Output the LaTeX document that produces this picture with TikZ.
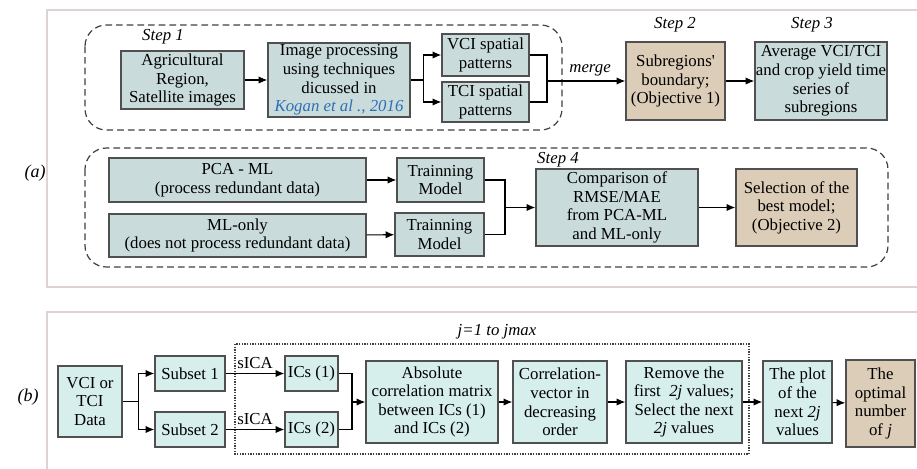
\documentclass[tikz,border=0pt]{standalone}
\usepackage{fontspec}
\setmainfont{Liberation Serif}
\newfontfamily\timesfont{Liberation Serif}
\usetikzlibrary{arrows.meta, calc}

\definecolor{tealA}{HTML}{C9DCDB}
\definecolor{tealB}{HTML}{D6EEEC}
\definecolor{beige}{HTML}{DCCDB8}
\definecolor{boxline}{HTML}{505050}
\definecolor{frameline}{HTML}{DDD3D0}
\definecolor{linkblue}{HTML}{2F6FB5}

\newcommand{\basefont}{\timesfont\fontsize{12.6}{13.9}\selectfont}

\tikzset{
  boxsize/.style 2 args = {minimum width=#1*0.75pt, minimum height=#2*0.75pt},
  box/.style = {draw=boxline, line width=1.1pt, fill=tealA, align=center, inner sep=0.5pt},
  boxb/.style = {box, fill=tealB},
  goal/.style = {box, fill=beige},
  line/.style = {draw, line width=0.8pt, -{Latex[length=6.5pt,width=5.5pt]}},
  wire/.style = {draw, line width=0.8pt},
  group/.style = {draw=black!75, line width=0.9pt, dash pattern=on 5pt off 3pt, rounded corners=16pt},
  loop/.style = {draw=black!75, line width=0.9pt, dash pattern=on 1pt off 1pt},
  steplabel/.style = {font=\basefont\itshape}
}

\begin{document}
\begin{tikzpicture}[x=0.75pt, y=-0.75pt, font=\basefont]
	\useasboundingbox (0,0) rectangle (917,468);
	
	% panel frames
	\draw [frameline, line width=1.1pt] (930,10) -- (47,10) -- (47,287) -- (930,287);
	\draw [frameline, line width=1.1pt] (930,312) -- (47,312) -- (47,480);
	\node [font=\timesfont\fontsize{13.5}{15}\selectfont\itshape] (lbla) at (35,173) {(a)};
	\node [font=\timesfont\fontsize{13.5}{15}\selectfont\itshape] (lblb) at (28,397) {(b)};
	
	% (a) groups
	\draw [group] (85,25) rectangle (562,130);
	\draw [group] (85,148) rectangle (888,267);
	
	% (a) step 1 - 3
	\node [box, boxsize={123}{58}] (agr) at (182.5,80) {Agricultural\\Region,\\Satellite images};
	\node [box, boxsize={142}{74}] (img) at (339,80) {Image processing\\using techniques\\dicussed in\\\textcolor{linkblue}{\itshape Kogan et al .,\ 2016}};
	\node [box, boxsize={87}{42}] (vci) at (485.5,55) {VCI spatial\\patterns};
	\node [box, boxsize={87}{40}] (tci) at (485.5,102) {TCI spatial\\patterns};
	\node [goal, boxsize={99}{78}] (sub) at (675.5,81) {Subregions'\\boundary;\\(Objective 1)};
	\node [box, boxsize={132}{78}] (avg) at (821,81) {Average VCI/TCI\\and crop yield time\\series of\\subregions};
	
	\node [steplabel] (step1) at (163,37) {Step 1};
	\node [steplabel] (step2) at (675,25) {Step 2};
	\node [steplabel] (step3) at (812,25) {Step 3};
	
	\coordinate (forkA) at ($(img.east)+(13,0)$);
	\coordinate (mergeA) at (547,81);
	\path [line] (agr) -> (img);
	\path [wire] (img.east) -- (forkA);
	\path [line] (forkA) |- (vci.west);
	\path [line] (forkA) |- (tci.west);
	\path [wire] (vci.east) -| (mergeA);
	\path [wire] (tci.east) -| (mergeA);
	\path [line] (mergeA) -- (sub.west) node [above, pos=0.55, font=\basefont\itshape] {merge};
	\path [line] (sub) -> (avg);
	
	% (a) step 4
	\node [box, boxsize={257}{44}] (pca) at (237.5,180) {PCA - ML\\(process redundant data)};
	\node [box, boxsize={257}{43}] (mlo) at (237.5,235.5) {ML-only\\(does not process redundant data)};
	\node [box, boxsize={87}{44}] (tm1) at (440.5,180) {Trainning\\Model};
	\node [box, boxsize={89}{43}] (tm2) at (439.5,234.5) {Trainning\\Model};
	\node [box, boxsize={162}{77}] (cmp) at (617,207.5) {Comparison of\\RMSE/MAE\\from PCA-ML\\and ML-only};
	\node [goal, boxsize={121}{77}] (sel) at (796.5,207.5) {Selection of the\\best model;\\(Objective 2)};
	\node [steplabel] (step4) at (558,160) {Step 4};
	
	\coordinate (mergeB) at (505,207.5);
	\path [line] (pca) -> (tm1);
	\path [line] (mlo) -> (tm2);
	\path [wire] (tm1.east) -| (mergeB);
	\path [wire] (tm2.east) -| (mergeB);
	\path [line] (mergeB) -- (cmp.west);
	\path [line] (cmp) -> (sel);
	
	% (b)
	\draw [loop] (235,344) rectangle (749,454);
	\node [steplabel] (jloop) at (497,332) {j=1 to jmax};
	
	\node [boxb, boxsize={64}{71}] (dat) at (90,401.5) {VCI or\\TCI\\Data};
	\node [boxb, boxsize={70}{35}] (s1) at (190,373.5) {Subset 1};
	\node [boxb, boxsize={70}{35}] (s2) at (190,429.5) {Subset 2};
	\node [boxb, boxsize={53}{35}] (ic1) at (311.5,373.5) {ICs (1)};
	\node [boxb, boxsize={53}{35}] (ic2) at (311.5,429.5) {ICs (2)};
	\node [boxb, boxsize={132}{82}] (abs) at (432,402) {Absolute\\correlation matrix\\between ICs (1)\\and ICs (2)};
	\node [boxb, boxsize={94}{82}] (cor) at (560,402) {Correlation-\\vector in\\decreasing\\order};
	\node [boxb, boxsize={116}{82}] (rem) at (684,402) {Remove the\\first~~\textit{2j} values;\\Select the next\\\textit{2j} values};
	\node [boxb, boxsize={69}{82}] (plt) at (797.5,402) {The plot\\of the\\next \textit{2j}\\values};
	\node [goal, boxsize={69}{87}] (opt) at (880.5,403.5) {The\\optimal\\number\\of \textit{j}};
	
	\coordinate (forkB) at ($(dat.east)+(16,0)$);
	\coordinate (mergeC) at (352,402);
	\path [wire] (dat.east) -- (forkB);
	\path [line] (forkB) |- (s1.west);
	\path [line] (forkB) |- (s2.west);
	\path [line] (s1) -> (ic1) node [above, midway] {sICA};
	\path [line] (s2) -> (ic2) node [above, midway] {sICA};
	\path [wire] (ic1.east) -| (mergeC);
	\path [wire] (ic2.east) -| (mergeC);
	\path [line] (mergeC) -- (abs.west);
	\path [line] (abs) -> (cor);
	\path [line] (cor) -> (rem);
	\path [line] (rem) -> (plt);
	\path [line] (plt) -> (opt);
\end{tikzpicture}
\end{document}
